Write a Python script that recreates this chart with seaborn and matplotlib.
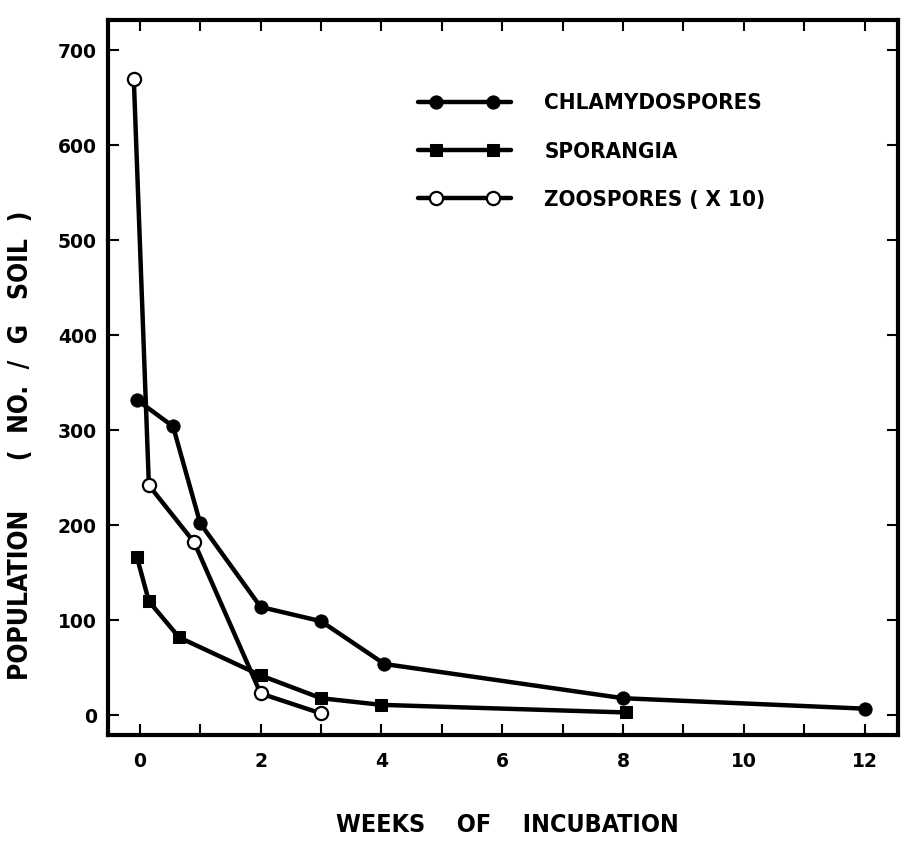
import matplotlib
matplotlib.use("Agg")
import matplotlib.pyplot as plt
import seaborn as sns
from matplotlib.ticker import MultipleLocator
from matplotlib.lines import Line2D
from matplotlib.legend_handler import HandlerLine2D
from matplotlib import font_manager as fm

# ---- data ----
chl_weeks = [-0.05, 0.55, 1.0, 2.0, 3.0, 4.05, 8.0, 12.0]
chl_vals = [332, 304, 202, 114, 99, 54, 18, 7]
spo_weeks = [-0.05, 0.15, 0.65, 2.0, 3.0, 4.0, 8.05]
spo_vals = [167, 120, 82, 42, 18, 11, 3]
zoo_weeks = [-0.1, 0.15, 0.9, 2.0, 3.0]
zoo_vals = [670, 242, 182, 23, 2]

labels = ["CHLAMYDOSPORES", "SPORANGIA", "ZOOSPORES ( X 10)"]
x_ticks = [0, 2, 4, 6, 8, 10, 12]
y_ticks = [0, 100, 200, 300, 400, 500, 600, 700]

sns.set_theme(style="white")
plt.rcParams["font.family"] = ["DejaVu Sans"]
plt.rcParams["text.color"] = "black"
plt.rcParams["axes.labelcolor"] = "black"
plt.rcParams["xtick.color"] = "black"
plt.rcParams["ytick.color"] = "black"

names = {f.name for f in fm.fontManager.ttflist}
if "Liberation Sans Narrow" in names:
    cond_prop = dict(family="Liberation Sans Narrow", weight="bold")
else:
    cond_prop = dict(family="DejaVu Sans", weight="bold", stretch="condensed")


class FullLineHandler(HandlerLine2D):
    """Line spans the whole handle; the two markers sit inset from its ends."""
    def create_artists(self, legend, orig_handle, xdescent, ydescent,
                       width, height, fontsize, trans):
        artists = super().create_artists(legend, orig_handle, xdescent,
                                         ydescent, width, height, fontsize,
                                         trans)
        line = artists[0]
        xd = list(line.get_xdata())
        yv = line.get_ydata()[0]
        line.set_data([-xdescent, xd[0], xd[-1], width - xdescent], [yv] * 4)
        line.set_markevery([1, 2])
        return artists


fig = plt.figure(figsize=(9.06, 8.52), dpi=100)
ax = fig.add_axes([0.119, 0.137, 0.872, 0.840])

lw = 3.2
ms = 9.5
sns.lineplot(x=chl_weeks, y=chl_vals, ax=ax, color="black", lw=lw,
             marker="o", markersize=ms, markerfacecolor="black",
             markeredgecolor="black", sort=False, label=labels[0])
sns.lineplot(x=spo_weeks, y=spo_vals, ax=ax, color="black", lw=lw,
             marker="s", markersize=ms - 1.5, markerfacecolor="black",
             markeredgecolor="black", sort=False, label=labels[1])
sns.lineplot(x=zoo_weeks, y=zoo_vals, ax=ax, color="black", lw=lw,
             marker="o", markersize=ms, markerfacecolor="white",
             markeredgecolor="black", markeredgewidth=1.6, sort=False,
             label=labels[2])

ax.set_xlim(-0.53, 12.55)
ax.set_ylim(-21, 732)
ax.set_xticks(x_ticks)
ax.set_xticklabels([str(v) for v in x_ticks])
ax.set_yticks(y_ticks)
ax.set_yticklabels([str(v) for v in y_ticks])
ax.xaxis.set_minor_locator(MultipleLocator(1))
ax.yaxis.set_minor_locator(MultipleLocator(100))

ax.tick_params(axis="both", which="both", direction="in", top=True,
               right=True, bottom=True, left=True, color="black")
ax.tick_params(axis="both", which="major", length=8, width=1.5,
               labelsize=13.5, labelcolor="black")
ax.tick_params(axis="y", which="major", pad=8)
ax.tick_params(axis="x", which="major", pad=12)
ax.tick_params(axis="both", which="minor", length=8, width=1.5)
for lab in ax.get_xticklabels() + ax.get_yticklabels():
    lab.set_fontweight("bold")

for sp in ax.spines.values():
    sp.set_visible(True)
    sp.set_color("black")
    sp.set_linewidth(3.0)

ax.grid(False)

ax.set_xlabel("WEEKS    OF    INCUBATION", fontsize=18, **cond_prop)
ax.xaxis.set_label_coords(0.506, -0.108)
ax.set_ylabel("POPULATION      (  NO.  /  G   SOIL  )", fontsize=19,
              **cond_prop)
ax.yaxis.set_label_coords(-0.094, 0.405)

leg = ax.legend(loc="upper left", bbox_to_anchor=(0.392, 0.897),
                frameon=False, borderpad=0, borderaxespad=0,
                handlelength=4.2, numpoints=2,
                labelspacing=1.27, handletextpad=1.5,
                handler_map={Line2D: FullLineHandler(marker_pad=0.81)},
                prop=dict(size=16, **cond_prop))

fig.savefig("out.png", dpi=100)
